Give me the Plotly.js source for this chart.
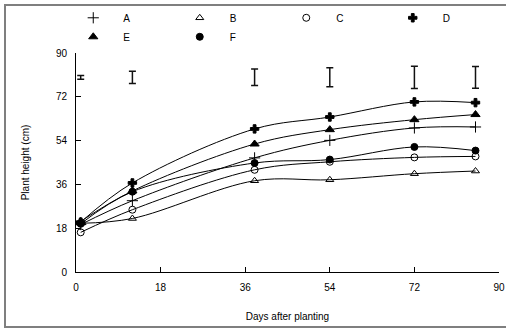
<!DOCTYPE html>
<html>
<head>
<meta charset="utf-8">
<script src="https://cdn.plot.ly/plotly-3.0.1.min.js"></script>
<style>
  html, body { margin: 0; padding: 0; background: #fff; }
  #wrap { position: relative; width: 506px; height: 329px; }
  #chart { width: 506px; height: 329px; }
  #frame { position: absolute; left: 4px; top: 4px; width: 510px; height: 324px;
           border: 2px solid #7f7f7f; pointer-events: none; box-sizing: border-box; }
</style>
</head>
<body>
<div id="wrap"><div id="chart"></div><div id="frame"></div></div>
<script>
const days = [1, 12, 38, 54, 72, 85];
const seriesNames = ['A', 'B', 'C', 'D', 'E', 'F'];
const A = [19.5, 29.3, 46.9, 54.1, 59.2, 59.6];
const B = [20.0, 22.0, 37.5, 37.9, 40.4, 41.5];
const C = [16.3, 25.6, 42.0, 45.3, 47.1, 47.5];
const D = [20.5, 36.6, 58.8, 63.7, 69.9, 69.6];
const E = [20.8, 33.3, 52.6, 58.5, 62.6, 64.7];
const F = [19.8, 33.0, 44.8, 46.2, 51.4, 49.9];
const lsdCenter = [80, 80, 80, 80, 80, 80];
const lsdHalf = [0.8, 2.5, 3.4, 3.9, 4.6, 4.5];
const xTicks = [0, 18, 36, 54, 72, 90];
const yTicks = [0, 18, 36, 54, 72, 90];

const values = [A, B, C, D, E, F];
const symbols = ['cross-thin-open', 'triangle-up-open', 'circle-open', 'cross', 'triangle-up', 'circle'];
const sizes = [8, 7, 7, 7, 8, 7];

const traces = [];
values.forEach((v, i) => {
  traces.push({
    x: days, y: v, mode: 'lines', type: 'scatter', showlegend: false,
    line: { color: '#000', width: 1, shape: 'spline', smoothing: 1 },
    hoverinfo: 'skip'
  });
});
values.forEach((v, i) => {
  traces.push({
    x: days, y: v, mode: 'markers', type: 'scatter', name: seriesNames[i],
    marker: { symbol: symbols[i], size: sizes[i], color: '#000',
              line: { color: '#000', width: 1 } }
  });
});
traces.push({
  x: days, y: lsdCenter, mode: 'markers', type: 'scatter', showlegend: false,
  marker: { size: 1, color: 'rgba(0,0,0,0)' },
  error_y: { type: 'data', array: lsdHalf, visible: true, color: '#111', thickness: 1.5, width: 3.5 }
});

const layout = {
  width: 506, height: 329,
  margin: { l: 76, r: 7, t: 53, b: 57 },
  paper_bgcolor: '#fff', plot_bgcolor: '#fff',
  font: { family: 'Liberation Sans, Arial, sans-serif', size: 10, color: '#000' },
  showlegend: true,
  legend: {
    orientation: 'h', xref: 'container', yref: 'container',
    x: 0.125, y: 0.99, xanchor: 'left', yanchor: 'top',
    itemwidth: 50, entrywidth: 41.5, entrywidthmode: 'pixels',
    font: { size: 10 }, bgcolor: 'rgba(0,0,0,0)', traceorder: 'normal', tracegroupgap: 0
  },
  xaxis: {
    range: [0, 90], tickvals: xTicks, ticktext: xTicks.map(String),
    ticks: 'inside', ticklen: 5, tickcolor: '#000', showline: true, linecolor: '#000', linewidth: 1,
    showgrid: false, zeroline: false, mirror: false, ticklabelstandoff: 6,
    title: { text: 'Days after planting', standoff: 20, font: { size: 10 } }
  },
  yaxis: {
    range: [0, 90], tickvals: yTicks, ticktext: yTicks.map(String),
    ticks: 'inside', ticklen: 5, tickcolor: '#000', showline: true, linecolor: '#000', linewidth: 1,
    showgrid: false, zeroline: false, mirror: false, ticklabelstandoff: 6,
    title: { text: 'Plant height (cm)', standoff: 24, font: { size: 10 } }
  }
};

Plotly.newPlot('chart', traces, layout, { displayModeBar: false, staticPlot: true });
</script>
</body>
</html>
